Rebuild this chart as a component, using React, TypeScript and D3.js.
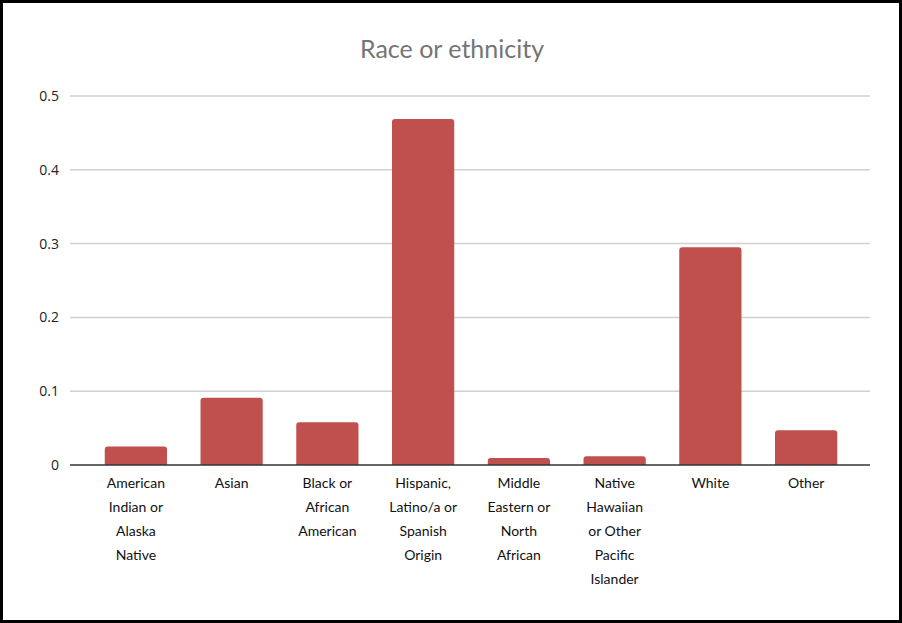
import React from "react";
import * as d3 from "d3";

const categories: string[][] = [
  ["American", "Indian or", "Alaska", "Native"],
  ["Asian"],
  ["Black or", "African", "American"],
  ["Hispanic,", "Latino/a or", "Spanish", "Origin"],
  ["Middle", "Eastern or", "North", "African"],
  ["Native", "Hawaiian", "or Other", "Pacific", "Islander"],
  ["White"],
  ["Other"],
];
const values: number[] = [0.025, 0.091, 0.058, 0.469, 0.0095, 0.012, 0.295, 0.047];
const yTicks: number[] = [0, 0.1, 0.2, 0.3, 0.4, 0.5];
const title = "Race or ethnicity";

const W = 902;
const H = 623;

export default function App() {
  const keys = categories.map((c) => c.join(" "));
  const x = d3.scaleBand<string>().domain(keys).range([88, 854]).paddingInner(0.35).paddingOuter(0.175);
  const y = d3.scaleLinear().domain([0, 0.5]).range([465, 96]);
  const r = 3;
  const barPath = (x0: number, w: number, top: number, bottom: number) => {
    const h = bottom - top;
    const rr = Math.min(r, h, w / 2);
    const p = d3.path();
    p.moveTo(x0, bottom);
    p.lineTo(x0, top + rr);
    p.quadraticCurveTo(x0, top, x0 + rr, top);
    p.lineTo(x0 + w - rr, top);
    p.quadraticCurveTo(x0 + w, top, x0 + w, top + rr);
    p.lineTo(x0 + w, bottom);
    p.closePath();
    return p.toString();
  };
  return (
    <svg width={W} height={H} style={{ position: "absolute", left: 0, top: 0, background: "#fff" }}>
      <rect x={1.5} y={1.5} width={W - 3} height={H - 3} fill="#fff" stroke="#000" strokeWidth={3} />
      <text x={452} y={58} textAnchor="middle" fontFamily="Lato, 'Open Sans', sans-serif" fontSize={25} fill="#757575">
        {title}
      </text>
      {yTicks.map((t) => (
        <g key={t}>
          {t !== 0 && <line x1={70} x2={870} y1={y(t)} y2={y(t)} stroke="#d0d0d0" strokeWidth={1.5} />}
          <text x={59} y={y(t)} dy="0.35em" textAnchor="end" fontFamily="'Open Sans', sans-serif" fontSize={14} fill="#222">
            {String(t)}
          </text>
        </g>
      ))}
      {values.map((v, i) => {
        const k = keys[i];
        return (
          <path key={k} d={barPath(x(k)!, x.bandwidth(), y(v), y(0))} fill="#c0504d" />
        );
      })}
      <line x1={70} x2={870} y1={y(0)} y2={y(0)} stroke="#333" strokeWidth={1.5} />
      {categories.map((lines, i) => {
        const cx = x(keys[i])! + x.bandwidth() / 2;
        return (
          <text key={keys[i]} textAnchor="middle" fontFamily="Lato, 'Open Sans', sans-serif" fontSize={14} fill="#111">
            {lines.map((ln, j) => (
              <tspan key={j} x={cx} y={488 + j * 24}>
                {ln}
              </tspan>
            ))}
          </text>
        );
      })}
    </svg>
  );
}
